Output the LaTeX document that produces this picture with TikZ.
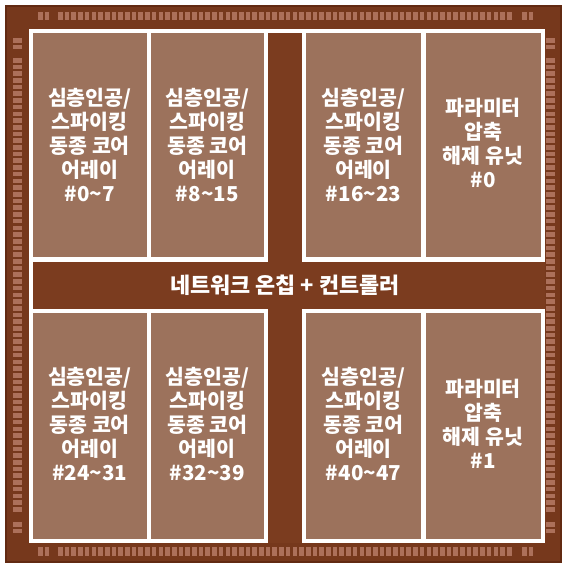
\documentclass[tikz,border=0pt]{standalone}
\usepackage{fontspec}
\newfontfamily\korfont{Noto Sans CJK KR}
\begin{document}
\begin{tikzpicture}[x=0.75pt,y=0.75pt,yscale=-1,xscale=1,
  chip/.style={draw={rgb, 255:red, 98; green, 42; blue, 18 }, line width=1.5, fill={rgb, 255:red, 118; green, 56; blue, 28 }},
  pad/.style={draw opacity=0, fill={rgb, 255:red, 172; green, 112; blue, 90 }},
  noc/.style={draw opacity=0, fill={rgb, 255:red, 123; green, 60; blue, 31 }},
  core/.style={draw opacity=0, fill={rgb, 255:red, 156; green, 114; blue, 92 }},
  lbl/.style={text=white, align=center, inner sep=0.75pt, font=\korfont\bfseries\fontsize{15.4}{18}\selectfont}]
\useasboundingbox (0,0) rectangle (568,570);

%Shape: Rectangle [chip]
\draw [chip] (6,6) rectangle (561,562);
%Shape: pads
\foreach \p in {38,44.7,58,64.7,...,512}{
  \fill [pad] (\p,12.5) rectangle ++(4.6,8);
  \fill [pad] (\p,546.5) rectangle ++(4.6,9);
  \fill [pad] (13,\p) rectangle ++(8.5,4.6);
  \fill [pad] (546,\p) rectangle ++(9,4.6);
}
\foreach \p in {522,528.7}{
  \fill [pad] (\p,12.5) rectangle ++(4.6,8);
  \fill [pad] (\p,546.5) rectangle ++(4.6,9);
  \fill [pad] (13,\p) rectangle ++(8.5,4.6);
  \fill [pad] (546,\p) rectangle ++(9,4.6);
}

%Shape: Rectangle [white frame]
\fill [white] (29,29) rectangle (544.5,543);
%Shape: Cross [network on chip]
\fill [noc] (267.5,33) rectangle (302,543);
\fill [noc] (33,261.5) rectangle (544.5,309);

%Shape: Rectangle [cores]
\fill [core] (33,33) rectangle (146.5,257);
\fill [core] (151,33) rectangle (263.5,257);
\fill [core] (306,33) rectangle (421,257);
\fill [core] (425.5,33) rectangle (540.5,257);
\fill [core] (33,313) rectangle (146.5,538.5);
\fill [core] (151,313) rectangle (263.5,538.5);
\fill [core] (306,313) rectangle (421,538.5);
\fill [core] (425.5,313) rectangle (540.5,538.5);

% Text Node
\draw (89.75,145) node (arr0) [lbl] {심층인공/\\스파이킹\\동종 코어\\어레이\\\#0\textasciitilde 7};
% Text Node
\draw (207.25,145) node (arr8) [lbl] {심층인공/\\스파이킹\\동종 코어\\어레이\\\#8\textasciitilde 15};
% Text Node
\draw (363.5,145) node (arr16) [lbl] {심층인공/\\스파이킹\\동종 코어\\어레이\\\#16\textasciitilde 23};
% Text Node
\draw (483,143) node (pdu0) [lbl] {파라미터\\압축\\해제 유닛\\\#0};
% Text Node
\draw (89.75,423.5) node (arr24) [lbl] {심층인공/\\스파이킹\\동종 코어\\어레이\\\#24\textasciitilde 31};
% Text Node
\draw (207.25,423.5) node (arr32) [lbl] {심층인공/\\스파이킹\\동종 코어\\어레이\\\#32\textasciitilde 39};
% Text Node
\draw (363.5,423.5) node (arr40) [lbl] {심층인공/\\스파이킹\\동종 코어\\어레이\\\#40\textasciitilde 47};
% Text Node
\draw (483,423.5) node (pdu1) [lbl] {파라미터\\압축\\해제 유닛\\\#1};
% Text Node
\draw (285,285) node (noc) [lbl, font=\korfont\bfseries\fontsize{16.4}{18}\selectfont] {네트워크 온칩 + 컨트롤러};

\end{tikzpicture}
\end{document}
